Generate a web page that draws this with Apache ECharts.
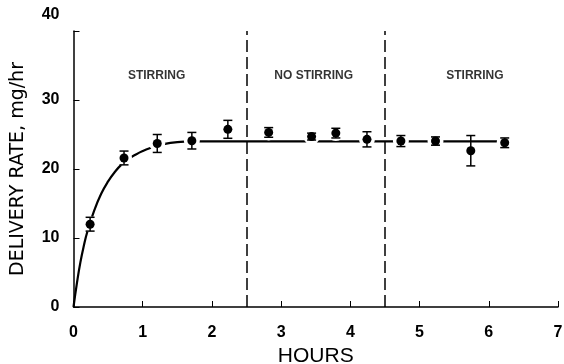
<!DOCTYPE html>
<html>
<head>
<meta charset="utf-8">
<script src="https://cdn.jsdelivr.net/npm/echarts@6/dist/echarts.min.js"></script>
<style>html,body{margin:0;padding:0;background:#fff}#c{width:564px;height:364px}</style>
</head>
<body>
<div id="c"></div>
<script>
// Measured points (hours, mg/hr) with error half-widths
var hours = [0.24, 0.73, 1.21, 1.71, 2.23, 2.82, 3.44, 3.79, 4.24, 4.73, 5.23, 5.74, 6.23];
var rates = [12.0, 21.6, 23.7, 24.1, 25.75, 25.3, 24.7, 25.2, 24.3, 24.05, 24.05, 22.65, 23.8];
var errs  = [1.0, 1.0, 1.3, 1.2, 1.3, 0.7, 0.5, 0.7, 1.1, 0.8, 0.6, 2.2, 0.7];
// Fitted curve
var curveX = [0, 0.05, 0.1, 0.15, 0.2, 0.3, 0.4, 0.5, 0.6, 0.7, 0.8, 0.9, 1.0, 1.1, 1.2, 1.3, 1.5, 1.7, 2.0, 6.3];
var curveY = [0, 3.5, 6.5, 8.9, 10.9, 14.0, 16.4, 18.2, 19.6, 20.7, 21.5, 22.1, 22.6, 23.0, 23.3, 23.6, 23.9, 24.0, 24.0, 24.0];
// Phase boundaries and labels
var boundaries = [2.5, 4.5];
var phaseLabels = ['STIRRING', 'NO STIRRING', 'STIRRING'];
var phaseX = [1.2, 3.47, 5.8];
var phaseY = 33.5;
var xTicks = [0, 1, 2, 3, 4, 5, 6, 7];
var yTicks = [0, 10, 20, 30, 40];

var chart = echarts.init(document.getElementById('c'));
var font = '"Liberation Sans", Arial, Helvetica, sans-serif';

chart.setOption({
  animation: false,
  backgroundColor: '#fff',
  grid: {left: 73.5, right: 6, top: 31, bottom: 57, containLabel: false, outerBoundsMode: 'none'},
  xAxis: {
    type: 'value', min: xTicks[0], max: xTicks[xTicks.length - 1], interval: 1,
    name: 'HOURS', nameLocation: 'middle', nameGap: 39,
    nameTextStyle: {fontFamily: font, fontSize: 21, color: '#000'},
    axisLine: {lineStyle: {color: '#000', width: 1.5}},
    axisTick: {inside: true, length: 6, lineStyle: {color: '#000'}},
    axisLabel: {fontFamily: font, fontSize: 16, fontWeight: 'bold', color: '#000', margin: 18},
    splitLine: {show: false}
  },
  yAxis: {
    type: 'value', min: yTicks[0], max: yTicks[yTicks.length - 1], interval: 10,
    name: 'DELIVERY RATE, mg/hr', nameLocation: 'middle', nameGap: 46, nameRotate: 90,
    nameTextStyle: {fontFamily: '"DejaVu Sans", sans-serif', fontSize: 19, color: '#000'},
    axisLine: {show: true, lineStyle: {color: '#000', width: 1.5}},
    axisTick: {show: true, inside: true, length: 6, lineStyle: {color: '#000'}},
    axisLabel: {
      fontFamily: font, fontSize: 16, fontWeight: 'bold', color: '#000', margin: 14,
      formatter: function (v) { return v === 40 ? '{t|40}' : String(v); },
      rich: {t: {fontFamily: font, fontSize: 16, fontWeight: 'bold', color: '#000', padding: [0, 0, 32, 0]}}
    },
    splitLine: {show: false}
  },
  series: [
    {
      type: 'line', smooth: true, symbol: 'none', z: 2,
      data: curveX.map(function (x, i) { return [x, curveY[i]]; }),
      lineStyle: {color: '#000', width: 2.2},
      markLine: {
        silent: true, symbol: 'none', label: {show: false},
        lineStyle: {color: '#000', width: 1.5, type: [12, 5]},
        data: boundaries.map(function (b) { return {xAxis: b}; })
      }
    },
    {
      type: 'custom', z: 5,
      data: hours.map(function (h, i) { return [h, rates[i], errs[i]]; }),
      renderItem: function (params, api) {
        var p = api.coord([api.value(0), api.value(1)]);
        var hi = api.coord([api.value(0), api.value(1) + api.value(2)]);
        var lo = api.coord([api.value(0), api.value(1) - api.value(2)]);
        var cw = 4.5;
        var st = {stroke: '#000', lineWidth: 1.5};
        return {type: 'group', children: [
          {type: 'circle', shape: {cx: p[0], cy: p[1], r: 8}, style: {fill: '#fff'}},
          {type: 'line', shape: {x1: p[0], y1: hi[1], x2: p[0], y2: lo[1]}, style: st},
          {type: 'line', shape: {x1: p[0] - cw, y1: hi[1], x2: p[0] + cw, y2: hi[1]}, style: st},
          {type: 'line', shape: {x1: p[0] - cw, y1: lo[1], x2: p[0] + cw, y2: lo[1]}, style: st},
          {type: 'circle', shape: {cx: p[0], cy: p[1], r: 4.5}, style: {fill: '#000'}}
        ]};
      }
    },
    {
      type: 'scatter', symbolSize: 0, z: 6,
      data: phaseX.map(function (x, i) { return {value: [x, phaseY], name: phaseLabels[i]}; }),
      label: {show: true, position: 'inside', formatter: '{b}', fontFamily: font, fontSize: 12, fontWeight: 'bold', color: '#000'}
    }
  ]
});
</script>
</body>
</html>
